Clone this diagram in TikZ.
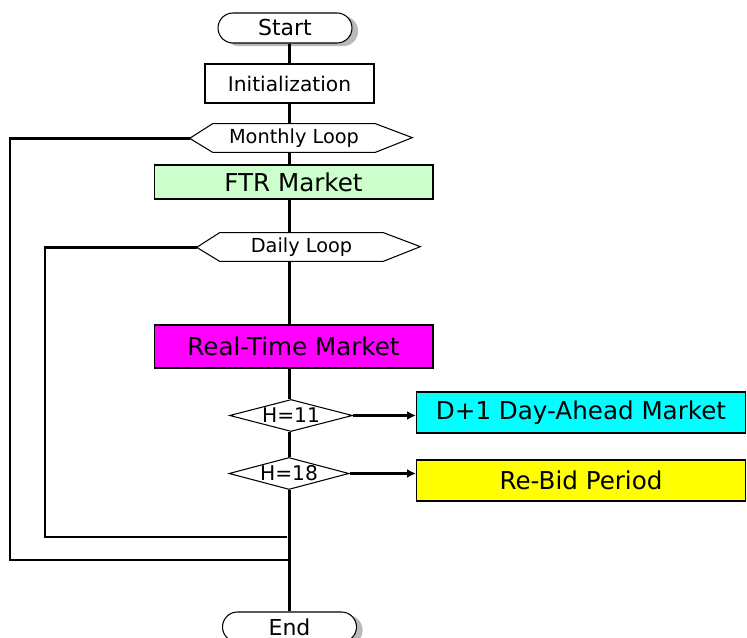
\documentclass[tikz,border=0pt]{standalone}
\usepackage{fontspec}
\setmainfont{DejaVu Sans}
\usetikzlibrary{shapes.geometric, shapes.misc, shadows, arrows.meta}

\definecolor{ftrgreen}{HTML}{CCFFCC}
\definecolor{rtmpink}{HTML}{FF00FF}
\definecolor{dacyan}{HTML}{00FFFF}
\definecolor{bidyellow}{HTML}{FFFF00}

\begin{document}
\begin{tikzpicture}[x=0.02cm, y=-0.02cm,
    term/.style={draw, line width=0.6pt, rounded rectangle, fill=white, minimum width=2.68cm, minimum height=0.6cm, inner sep=0pt,
        font=\fontsize{12.5}{14}\selectfont,
        drop shadow={shadow xshift=3.5pt, shadow yshift=-1.8pt, fill=gray!55, opacity=1}},
    procbox/.style={draw, line width=0.6pt, inner sep=0pt, minimum width=5.58cm},
    bigtext/.style={font=\fontsize{14}{16}\selectfont},
    loopbox/.style={inner sep=0pt, minimum height=0.56cm, font=\fontsize{11}{12}\selectfont},
    cond/.style={draw, line width=0.6pt, diamond, aspect=3.9, inner sep=0pt, minimum width=2.46cm, minimum height=0.64cm,
        font=\fontsize{11.5}{12}\selectfont},
    flow/.style={line width=1.5pt},
    arrow/.style={line width=1.2pt, -{Latex[length=5pt, width=5pt]}}]
    \useasboundingbox (0,0) rectangle (747,638);

    % start and setup
    \node[term] (start) at (285,28) {Start};
    \node[procbox, minimum width=3.38cm, minimum height=0.78cm, font=\fontsize{11.5}{12}\selectfont] (init) at (289.5,83.5) {Initialization};

    % outer loop
    \node[loopbox, minimum width=3.24cm] (monthly) at (294,138) {Monthly Loop};
    \draw[line width=0.6pt] (monthly.north west) -- (monthly.north east) -- ++(37,14) -- (monthly.south east)
        -- (monthly.south west) -- ++(-23,-14) coordinate (mtip) -- cycle;
    \node[procbox, bigtext, fill=ftrgreen, minimum height=0.68cm] (ftr) at (293.5,182) {FTR Market};

    % inner loop
    \node[loopbox, minimum width=3.26cm] (daily) at (301.5,247) {Daily Loop};
    \draw[line width=0.6pt] (daily.north west) -- (daily.north east) -- ++(37,14) -- (daily.south east)
        -- (daily.south west) -- ++(-23,-14) coordinate (dtip) -- cycle;
    \node[procbox, bigtext, fill=rtmpink, minimum height=0.86cm] (rtm) at (293.5,346.5) {Real-Time Market};

    % hour checks
    \node[cond] (h11) at (291,415.5) {H=11};
    \node[cond, minimum width=2.4cm] (h18) at (289,473.5) {H=18};
    \node[procbox, bigtext, fill=dacyan, minimum width=6.58cm, minimum height=0.82cm] (da) at (581,412.5) {D+1 Day-Ahead Market};
    \node[procbox, bigtext, fill=bidyellow, minimum width=6.58cm, minimum height=0.82cm] (rebid) at (581,480.5) {Re-Bid Period};

    \node[term] (stop) at (289.5,627) {End};

    % main line
    \draw[flow] (start.south -| init) -- (init);
    \draw[flow] (init) -- (init |- monthly.north);
    \draw[flow] (init |- monthly.south) -- (init |- ftr.north);
    \draw[flow] (init |- ftr.south) -- (init |- daily.north);
    \draw[flow] (init |- daily.south) -- (init |- rtm.north);
    \draw[flow] (init |- rtm.south) -- (init |- h11.north);
    \draw[flow] (init |- h11.south) -- (init |- h18.north);
    \draw[flow] (init |- h18.south) -- (init |- stop.north);

    \draw[arrow] (h11) -- (h11 -| da.west);
    \draw[arrow] (h18) -- (h18 -| rebid.west);

    % loop backs
    \coordinate (mcorner) at (10,560);
    \coordinate (mjoin) at (289.5,560);
    \coordinate (dcorner) at (45,537);
    \coordinate (djoin) at (287,537);
    \draw[flow] (mtip) -| (mcorner) -- (mjoin);
    \draw[flow] (dtip) -| (dcorner) -- (djoin);
\end{tikzpicture}
\end{document}
